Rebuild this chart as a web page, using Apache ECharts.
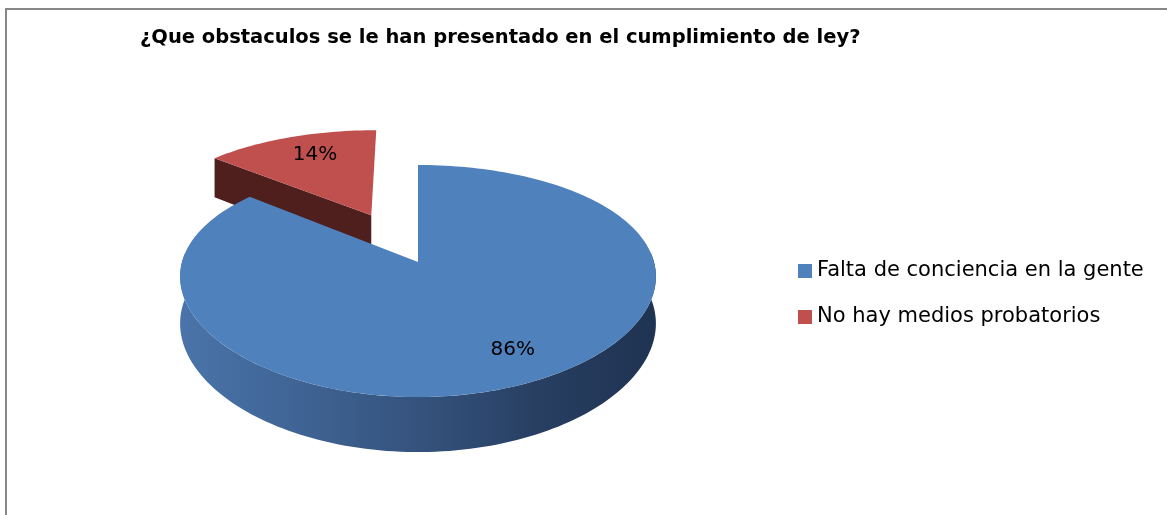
<!DOCTYPE html>
<html>
<head>
<meta charset="UTF-8">
<script src="https://cdn.jsdelivr.net/npm/echarts/dist/echarts.min.js"></script>
<style>
html, body { margin: 0; padding: 0; background: #fff; }
#main { width: 1167px; height: 515px; }
</style>
</head>
<body>
<div id="main"></div>
<script>
// data
var categories = ['Falta de conciencia en la gente', 'No hay medios probatorios'];
var values = [86, 14];
var labels = ['86%', '14%'];

// look
var topColors = ['#4f81bd', '#c0504d'];
var cutColors = ['#24395a', '#4f1f1e'];
var explode = [0, 0.491];
var labelOffset = [[16, 5], [4, -2]];
var FONT = '"DejaVu Sans"';

// fake 3d projection of the pie disc (X right, Z away from viewer, h down)
var CX = 418, CY = 262, RX = 236, RY = 112.9, KX = 0.126, KY = 0.164, DEPTH = 46;
function project(X, Z, h) {
	return [CX + RX * X / (1 + KX * Z), CY + (-RY * Z + h) / (1 + KY * Z)];
}

var total = values.reduce(function (s, v) { return s + v; }, 0);
var startAngles = [];
var acc = 0;
values.forEach(function (v) {
	startAngles.push(acc / total * 360);
	acc += v;
});

var sideGradient = new echarts.graphic.LinearGradient(0, 0, 1, 0, [
	{ offset: 0, color: '#4a74aa' },
	{ offset: 0.35, color: '#3b5d8b' },
	{ offset: 0.55, color: '#324f78' },
	{ offset: 0.75, color: '#283f62' },
	{ offset: 1, color: '#1f3352' }
]);

function makeRender(i) {
	return function (params, api) {
		var share = api.value(0) / total * 360;
		var a0 = startAngles[i], a1 = a0 + share;
		var deg = Math.PI / 180;
		var mid = (a0 + a1) / 2 * deg;
		var ox = explode[i] * Math.sin(mid), oz = explode[i] * Math.cos(mid);
		function pt(t, r, h) {
			return project(ox + r * Math.sin(t * deg), oz + r * Math.cos(t * deg), h);
		}
		function arc(from, to, h) {
			var n = Math.max(6, Math.ceil((to - from) / 1.5)), out = [];
			for (var k = 0; k <= n; k++) out.push(pt(from + (to - from) * k / n, 1, h));
			return out;
		}
		var children = [];

		// curved outer wall, only the part facing us
		var w0 = Math.max(a0, 85), w1 = Math.min(a1, 275);
		if (w1 > w0) {
			children.push({
				type: 'polygon',
				shape: { points: arc(w0, w1, 0).concat(arc(w0, w1, DEPTH).reverse()) },
				style: { fill: i === 0 ? sideGradient : cutColors[i] }
			});
		}
		// cut faces
		if (Math.sin(a0 * deg) < -0.01) {
			children.push({
				type: 'polygon',
				shape: { points: [pt(a0, 0, 0), pt(a0, 1, 0), pt(a0, 1, DEPTH), pt(a0, 0, DEPTH)] },
				style: { fill: cutColors[i] }
			});
		}
		if (Math.sin(a1 * deg) > 0.01) {
			children.push({
				type: 'polygon',
				shape: { points: [pt(a1, 0, 0), pt(a1, 1, 0), pt(a1, 1, DEPTH), pt(a1, 0, DEPTH)] },
				style: { fill: cutColors[i] }
			});
		}
		// top face
		children.push({
			type: 'polygon',
			shape: { points: [pt(a0, 0, 0)].concat(arc(a0, a1, 0)) },
			style: { fill: topColors[i] }
		});
		// value label
		var lp = pt((a0 + a1) / 2, 0.72, 0);
		children.push({
			type: 'text',
			style: {
				text: labels[i],
				x: lp[0] + labelOffset[i][0],
				y: lp[1] + labelOffset[i][1],
				align: 'center',
				verticalAlign: 'middle',
				fontFamily: FONT,
				fontSize: 20,
				fill: '#000'
			}
		});
		return { type: 'group', children: children };
	};
}

var chart = echarts.init(document.getElementById('main'));

var series = categories.map(function (name, i) {
	return {
		name: name,
		type: 'custom',
		coordinateSystem: 'none',
		z: i === 0 ? 3 : 2,
		itemStyle: { color: topColors[i] },
		renderItem: makeRender(i),
		data: [[values[i]]],
		animation: false
	};
});

var option = {
	animation: false,
	title: {
		text: '¿Que obstaculos se le han presentado en el cumplimiento de ley?',
		left: 135,
		top: 23,
		textStyle: { fontFamily: FONT, fontSize: 19.5, fontWeight: 'bold', color: '#000' }
	},
	legend: {
		orient: 'vertical',
		left: 793,
		top: 255,
		icon: 'rect',
		itemWidth: 14,
		itemHeight: 14,
		itemGap: 24,
		data: categories,
		textStyle: { fontFamily: FONT, fontSize: 21, color: '#000', lineHeight: 22 }
	},
	graphic: [{
		type: 'rect',
		shape: { x: 6, y: 9, width: 1300, height: 700 },
		style: { fill: 'none', stroke: '#878787', lineWidth: 2 },
		silent: true
	}],
	series: series
};
chart.setOption(option);
</script>
</body>
</html>
